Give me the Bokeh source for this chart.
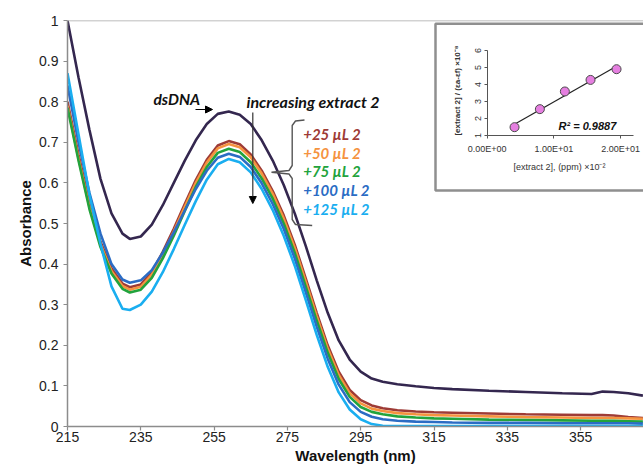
import math
import numpy as np
from bokeh.plotting import figure
from bokeh.models import (Range1d, LinearAxis, FixedTicker, Span, Label, Arrow, NormalHead)
from bokeh.embed import file_html
from bokeh.resources import INLINE

# ---------------- data ----------------
wavelength = [215, 218, 221, 224, 227, 230, 232, 235, 238, 241, 244, 247, 250, 253, 256,
              259, 262, 265, 268, 271, 274, 277, 280, 283, 286, 289, 292, 295, 298, 301,
              305, 310, 315, 320, 330, 340, 350, 358, 361, 364, 368, 372]

dsdna = [1.00, 0.86, 0.73, 0.61, 0.525, 0.475, 0.462, 0.468, 0.497, 0.545, 0.600, 0.655, 0.705, 0.745, 0.770,
         0.776, 0.768, 0.745, 0.705, 0.655, 0.595, 0.525, 0.445, 0.360, 0.280, 0.212, 0.165, 0.135, 0.118, 0.110,
         0.104, 0.099, 0.095, 0.092, 0.088, 0.085, 0.082, 0.080, 0.086, 0.085, 0.082, 0.076]
ul25 = [0.80, 0.67, 0.55, 0.455, 0.39, 0.352, 0.343, 0.350, 0.380, 0.430, 0.487, 0.548, 0.607, 0.657, 0.692,
        0.703, 0.695, 0.670, 0.630, 0.580, 0.520, 0.448, 0.365, 0.280, 0.200, 0.135, 0.090, 0.065, 0.052, 0.045,
        0.040, 0.037, 0.035, 0.034, 0.032, 0.030, 0.029, 0.028, 0.028, 0.027, 0.023, 0.021]
ul50 = [0.79, 0.66, 0.54, 0.448, 0.383, 0.346, 0.337, 0.344, 0.374, 0.423, 0.480, 0.541, 0.600, 0.650, 0.685,
        0.696, 0.688, 0.663, 0.623, 0.573, 0.512, 0.440, 0.357, 0.272, 0.192, 0.127, 0.082, 0.057, 0.044, 0.038,
        0.033, 0.030, 0.028, 0.027, 0.025, 0.023, 0.022, 0.021, 0.021, 0.021, 0.020, 0.019]
ul75 = [0.785, 0.655, 0.535, 0.442, 0.377, 0.339, 0.330, 0.337, 0.366, 0.414, 0.470, 0.531, 0.590, 0.639, 0.674,
        0.684, 0.676, 0.651, 0.611, 0.561, 0.500, 0.428, 0.345, 0.261, 0.182, 0.117, 0.073, 0.048, 0.036, 0.030,
        0.025, 0.022, 0.020, 0.019, 0.017, 0.016, 0.015, 0.014, 0.014, 0.014, 0.013, 0.012]
ul100 = [0.84, 0.70, 0.575, 0.475, 0.40, 0.362, 0.354, 0.360, 0.385, 0.428, 0.478, 0.532, 0.585, 0.630, 0.662,
         0.672, 0.664, 0.639, 0.599, 0.548, 0.487, 0.414, 0.331, 0.246, 0.167, 0.103, 0.060, 0.036, 0.024, 0.018,
         0.014, 0.012, 0.011, 0.010, 0.009, 0.009, 0.008, 0.008, 0.008, 0.008, 0.008, 0.007]
ul125 = [0.87, 0.72, 0.57, 0.45, 0.345, 0.290, 0.287, 0.300, 0.332, 0.380, 0.437, 0.497, 0.555, 0.608, 0.646,
         0.659, 0.651, 0.626, 0.585, 0.533, 0.470, 0.396, 0.312, 0.226, 0.147, 0.084, 0.042, 0.018, 0.006, 0.002,
         0.001, 0.001, 0.001, 0.001, 0.001, 0.001, 0.001, 0.001, 0.001, 0.001, 0.001, 0.001]

series = [dsdna, ul25, ul50, ul75, ul100, ul125]
series_labels = ["dsDNA", "+25 µL 2", "+50 µL 2", "+75 µL 2", "+100 µL 2", "+125 µL 2"]
series_colors = ["#34274f", "#9e3b36", "#f5933f", "#22a33c", "#2b6cc4", "#1aaef0"]

x_ticks = [215, 235, 255, 275, 295, 315, 335, 355]
y_ticks = [0, 0.1, 0.2, 0.3, 0.4, 0.5, 0.6, 0.7, 0.8, 0.9, 1]
y_tick_labels = ["0", "0.1", "0.2", "0.3", "0.4", "0.5", "0.6", "0.7", "0.8", "0.9", "1"]

# inset (binding plot)
inset_x = [4.1, 7.9, 11.65, 15.5, 19.4]
inset_y = [1.49, 2.55, 3.59, 4.27, 4.90]
inset_x_ticks = [0, 10, 20]
inset_x_labels = ["0.00E+00", "1.00E+01", "2.00E+01"]
inset_y_ticks = [1, 2, 3, 4, 5, 6]
inset_y_labels = ["1", "2", "3", "4", "5", "6"]
r2_text = "R² = 0.9887"

# ---------------- layout ----------------
W, H = 643, 468
BL, BT, BB = 67, 20, 42
FW = W - BL            # frame width in px
FH = H - BT - BB       # frame height in px
PX_PER_NM = 3.665
X_START = 215
X_END = X_START + FW / PX_PER_NM

# helpers to place annotations from window pixel positions
def nm(px):
    return X_START + (px - BL) / PX_PER_NM

def ab(py):
    return (BT + FH - py) / FH

p = figure(width=W, height=H, x_range=Range1d(X_START, X_END), y_range=Range1d(0, 1),
           output_backend="svg", toolbar_location=None,
           min_border_left=BL, min_border_right=0, min_border_top=BT, min_border_bottom=BB)
p.outline_line_color = None
p.grid.visible = False
p.background_fill_color = "white"

# inset ranges: inset origin (0,1) at window px (486.7,135); 6.667 px per x unit, 17 px per y unit
IX0_PX, IY0_PX = 486.7 - BL, 135 - BT
ISX, ISY = 6.667, 17.0
p.extra_x_ranges = {"ix": Range1d(-IX0_PX / ISX, (FW - IX0_PX) / ISX)}
p.extra_y_ranges = {"iy": Range1d(1 - (FH - IY0_PX) / ISY, 1 + IY0_PX / ISY)}

# main axes
xa = p.xaxis[0]
ya = p.yaxis[0]
for ax in (xa, ya):
    ax.axis_line_color = "#8c8c8c"
    ax.axis_line_width = 1.5
    ax.major_tick_line_color = "#8c8c8c"
    ax.major_tick_line_width = 1.2
    ax.minor_tick_line_color = None
    ax.major_tick_in = 0
    ax.major_tick_out = 4
    ax.major_label_text_font = "Liberation Sans"
    ax.major_label_text_font_size = "14px"
    ax.major_label_text_color = "#222222"
    ax.axis_label_text_font = "Liberation Sans"
    ax.axis_label_text_font_style = "bold"
    ax.axis_label_text_font_size = "15px"
    ax.axis_label_text_color = "#111111"
xa.ticker = FixedTicker(ticks=x_ticks)
xa.major_label_standoff = 1
xa.axis_label = "Wavelength (nm)"
xa.axis_label_standoff = 2
ya.ticker = FixedTicker(ticks=y_ticks)
ya.major_label_overrides = dict(zip(y_ticks, y_tick_labels))
ya.major_label_standoff = 5
ya.axis_label = "Absorbance"
ya.axis_label_standoff = 2

p.add_layout(Span(location=1, dimension="width", line_color="#a6a6a6", line_width=1.5))

# spectra
for ys, col in zip(series, series_colors):
    p.line(wavelength, ys, line_color=col, line_width=2.6)

# annotations on main plot
ann_font = "Lato"
p.add_layout(Label(x=nm(153), y=ab(98), text=series_labels[0], text_font=ann_font,
                   text_font_style="bold italic", text_font_size="15.5px", text_color="#111111",
                   text_baseline="middle", text_align="left"))
p.add_layout(Arrow(end=NormalHead(size=7, fill_color="black", line_color="black"),
                   x_start=nm(195), y_start=ab(109), x_end=nm(212), y_end=ab(109),
                   line_color="black", line_width=1.2))
p.add_layout(Label(x=nm(246), y=ab(101), text="increasing extract 2", text_font=ann_font,
                   text_font_style="bold italic", text_font_size="16px", text_color="#111111",
                   text_baseline="middle", text_align="left"))
p.add_layout(Arrow(end=NormalHead(size=7, fill_color="black", line_color="black"),
                   x_start=nm(252.3), y_start=ab(112), x_end=nm(252.3), y_end=ab(203),
                   line_color="#333333", line_width=1.2))

brace_px = [(304, 119.5), (295, 120.5), (291.7, 125), (291.7, 165), (288.5, 170), (271, 171.7),
            (288.5, 173.5), (291.7, 178), (291.7, 219), (295, 224), (311.7, 225)]
p.line([nm(a) for a, b in brace_px], [ab(b) for a, b in brace_px],
       line_color="#555555", line_width=1.4)

legend_y_px = [133.3, 152.7, 170.7, 189.3, 208.3]
for lab, col, ypx in zip(series_labels[1:], series_colors[1:], legend_y_px):
    p.add_layout(Label(x=nm(302.7), y=ab(ypx), text=lab, text_font=ann_font,
                       text_font_style="bold italic", text_font_size="15px", text_color=col,
                       text_baseline="middle", text_align="left"))

# ---------------- inset ----------------
box_left = (435 - 486.7) / ISX
box_right = (660 - 486.7) / ISX
box_top = 1 + (135 - 23.3) / ISY
box_bottom = 1 - (190 - 135) / ISY
p.quad(left=[box_left], right=[box_right], top=[box_top], bottom=[box_bottom],
       x_range_name="ix", y_range_name="iy", fill_color="white",
       line_color="#8f8f8f", line_width=2.5)

coef = np.polyfit(inset_x, inset_y, 1)
fit_x = [min(inset_x), max(inset_x)]
fit_y = list(np.polyval(coef, fit_x))
p.line(fit_x, fit_y, x_range_name="ix", y_range_name="iy", line_color="#222222", line_width=1.2)
p.scatter(inset_x, inset_y, x_range_name="ix", y_range_name="iy", size=9,
          fill_color="#e57fe0", line_color="#4a4a4a", line_width=1)

iax = LinearAxis(x_range_name="ix", y_range_name="iy", fixed_location=1, bounds=(0, 22),
                 ticker=FixedTicker(ticks=inset_x_ticks),
                 major_label_overrides=dict(zip(inset_x_ticks, inset_x_labels)))
iay = LinearAxis(x_range_name="ix", y_range_name="iy", fixed_location=0, bounds=(1, 6),
                 ticker=FixedTicker(ticks=inset_y_ticks),
                 major_label_overrides=dict(zip(inset_y_ticks, inset_y_labels)),
                 major_label_orientation="vertical")
for ax in (iax, iay):
    ax.axis_line_color = "#555555"
    ax.axis_line_width = 1
    ax.major_tick_line_color = "#555555"
    ax.major_tick_in = 0
    ax.major_tick_out = 3
    ax.minor_tick_line_color = None
    ax.major_label_text_font = "Liberation Sans"
    ax.major_label_text_font_size = "9px"
    ax.major_label_text_color = "#333333"
iax.major_label_standoff = 5
iay.major_label_standoff = 3
p.add_layout(iax, "below")
p.add_layout(iay, "left")

p.add_layout(Label(x=(559 - 486.7) / ISX, y=1 + (135 - 166.5) / ISY, x_range_name="ix", y_range_name="iy",
                   text="[extract 2], (ppm) ×10⁻²", text_font="Liberation Sans", text_font_size="9px",
                   text_color="#333333", text_align="center", text_baseline="middle"))
p.add_layout(Label(x=(457 - 486.7) / ISX, y=1 + (135 - 90) / ISY, x_range_name="ix", y_range_name="iy",
                   text="[extract 2] / (εa-εf) ×10⁻⁸", text_font="Liberation Sans", text_font_size="8px",
                   text_font_style="bold", text_color="#333333", text_align="center",
                   text_baseline="middle", angle=math.pi / 2))
p.add_layout(Label(x=(558 - 486.7) / ISX, y=1 + (135 - 125) / ISY, x_range_name="ix", y_range_name="iy",
                   text=r2_text, text_font="Liberation Sans", text_font_size="11px",
                   text_font_style="bold italic", text_color="#111111", text_align="left",
                   text_baseline="middle"))

open("out.html", "w").write(file_html(p, INLINE))
